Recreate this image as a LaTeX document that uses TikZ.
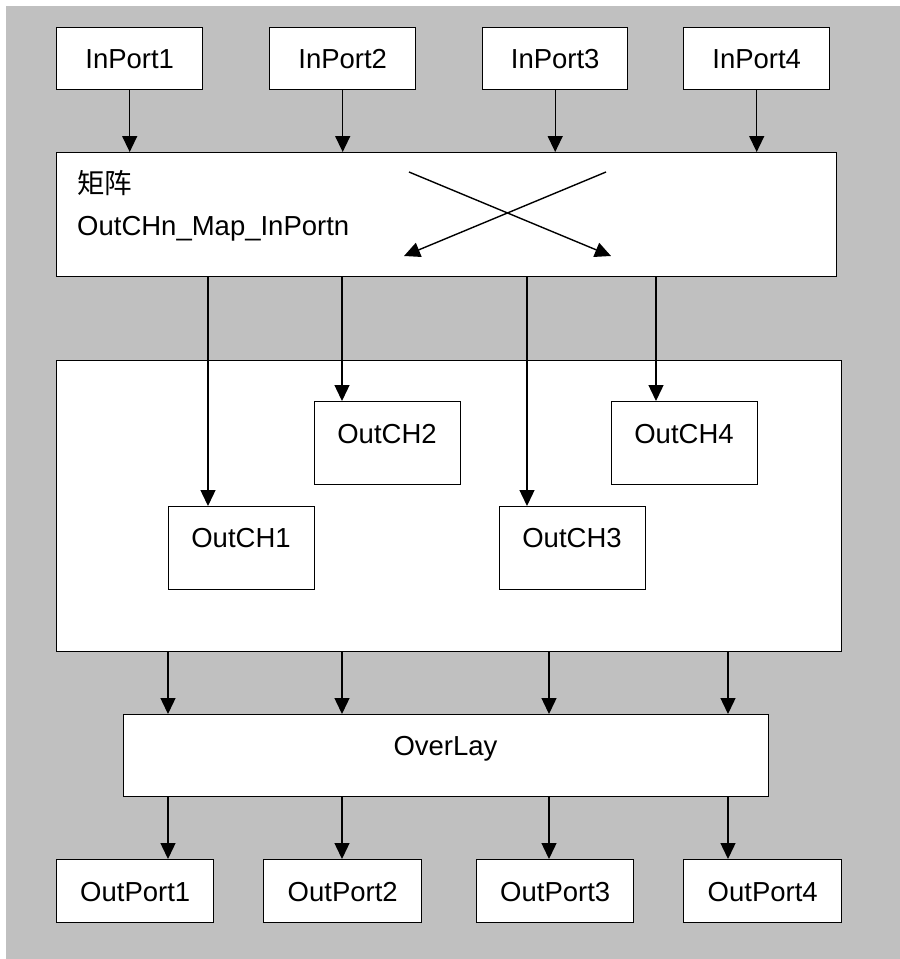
\documentclass[tikz,border=0pt]{standalone}
\usepackage{fontspec}
\setmainfont{Liberation Sans}
\newfontfamily\cjk{Noto Sans CJK SC}
\usetikzlibrary{arrows.meta}
\definecolor{bggray}{RGB}{192,192,192}
\begin{document}
\begin{tikzpicture}[x=1pt,y=-1pt,
  every node/.style={font=\fontsize{27.5}{33}\selectfont},
  box/.style={draw=black, fill=white, line width=1.4pt, inner sep=0pt, anchor=north west, text height=19.7pt, text depth=0pt},
  arr/.style={line width=1.4pt, -{Triangle[length=16pt,width=15pt]}},
  txt/.style={inner sep=0pt}]
\useasboundingbox (0,0) rectangle (900,959);
\fill[white] (0,0) rectangle (900,959);
\fill[bggray] (6,6) rectangle (900,959);

% input ports
\node[box, minimum width=146pt, minimum height=62pt] (in1) at (56,27) {InPort1};
\node[box, minimum width=146pt, minimum height=62pt] (in2) at (269,27) {InPort2};
\node[box, minimum width=145pt, minimum height=62pt] (in3) at (482,27) {InPort3};
\node[box, minimum width=146pt, minimum height=62pt] (in4) at (683,27) {InPort4};

% matrix
\node[box, minimum width=780pt, minimum height=124pt] (mat) at (56,152) {};
\node[txt, anchor=base west] (matcn) at (77,193) {\cjk 矩阵};
\node[txt, anchor=base west] (matmap) at (77,235) {OutCHn\_Map\_InPortn};
\coordinate (xa1) at (409,172);
\coordinate (xa2) at (611,256);
\coordinate (xb1) at (606,172);
\coordinate (xb2) at (404,256);
\draw[arr] (xa1) -- (xa2);
\draw[arr] (xb1) -- (xb2);

% channel container
\node[box, minimum width=785pt, minimum height=291pt] (big) at (56,360) {};
\node[box, minimum width=146pt, minimum height=83pt] (och1) at (168,506) {};
\node[box, minimum width=146pt, minimum height=83pt] (och2) at (314,401) {};
\node[box, minimum width=146pt, minimum height=83pt] (och3) at (499,506) {};
\node[box, minimum width=146pt, minimum height=83pt] (och4) at (611,401) {};
\node[txt, anchor=base] (t1) at (241,547) {OutCH1};
\node[txt, anchor=base] (t2) at (387,443) {OutCH2};
\node[txt, anchor=base] (t3) at (572,547) {OutCH3};
\node[txt, anchor=base] (t4) at (684,443) {OutCH4};

% overlay
\node[box, minimum width=645pt, minimum height=82pt] (ovl) at (123,714) {};
\node[txt, anchor=base] (tovl) at (445.5,755) {OverLay};

% output ports
\node[box, minimum width=157pt, minimum height=63pt] (op1) at (56,859) {OutPort1};
\node[box, minimum width=158pt, minimum height=63pt] (op2) at (263,859) {OutPort2};
\node[box, minimum width=157pt, minimum height=63pt] (op3) at (476,859) {OutPort3};
\node[box, minimum width=158pt, minimum height=63pt] (op4) at (683,859) {OutPort4};

% x positions of channel connectors
\coordinate (c1) at (208,0);
\coordinate (c2) at (342,0);
\coordinate (c3) at (527,0);
\coordinate (c4) at (656,0);
\coordinate (d1) at (168,0);
\coordinate (d2) at (342,0);
\coordinate (d3) at (549,0);
\coordinate (d4) at (728,0);

% connectors
\foreach \i in {1,2,3,4} {
  \draw[arr] (in\i.south) -- (in\i.south |- mat.north);
  \draw[arr] (mat.south -| c\i) -- (och\i.north -| c\i);
  \draw[arr] (big.south -| d\i) -- (ovl.north -| d\i);
  \draw[arr] (ovl.south -| d\i) -- (op\i.north -| d\i);
}
\end{tikzpicture}
\end{document}
